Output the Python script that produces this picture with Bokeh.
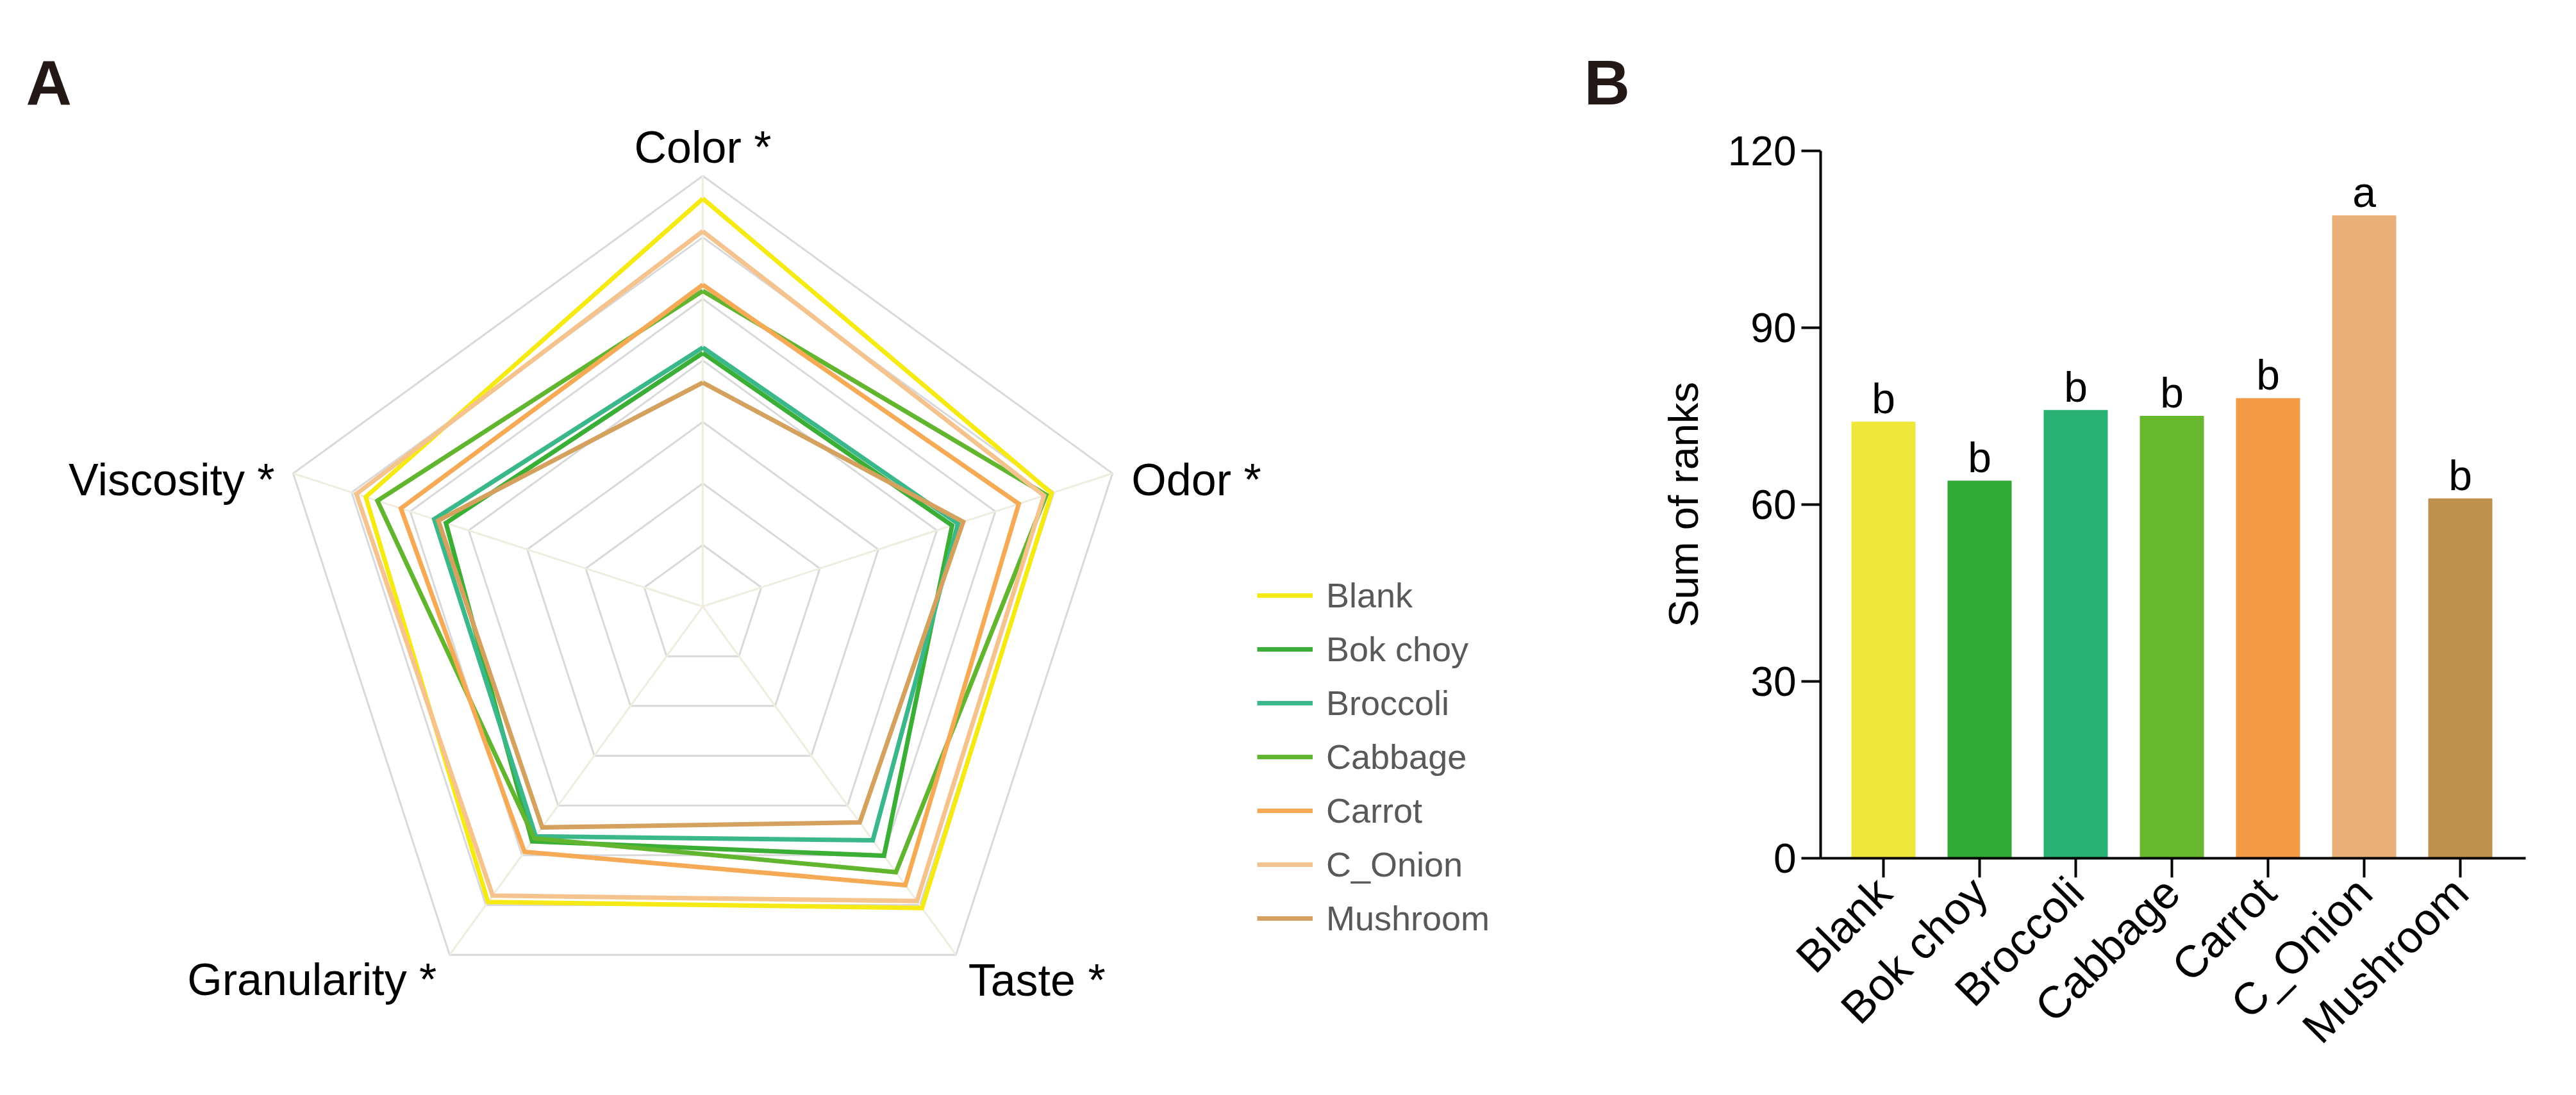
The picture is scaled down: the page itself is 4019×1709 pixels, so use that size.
import math
from bokeh.plotting import figure
from bokeh.models import Range1d, FixedTicker, Legend, LegendItem, ColumnDataSource
from bokeh.layouts import row
from bokeh.embed import file_html
from bokeh.resources import INLINE
from bokeh.core.properties import value

# ---------------- data ----------------
groups = ["Blank", "Bok choy", "Broccoli", "Cabbage", "Carrot", "C_Onion", "Mushroom"]
attributes = ["Color *", "Odor *", "Taste *", "Granularity *", "Viscosity *"]
ring_levels = [1, 2, 3, 4, 5, 6, 7]

# radar scores (ring units), order: Color, Odor, Taste, Granularity, Viscosity
blank_scores    = [6.63, 5.96, 6.06, 5.94, 5.76]
bokchoy_scores  = [4.12, 4.26, 5.01, 4.72, 4.39]
broccoli_scores = [4.21, 4.36, 4.70, 4.62, 4.59]
cabbage_scores  = [5.13, 5.87, 5.34, 4.66, 5.56]
carrot_scores   = [5.23, 5.40, 5.60, 4.93, 5.16]
conion_scores   = [6.10, 5.83, 5.92, 5.81, 5.92]
mushroom_scores = [3.64, 4.45, 4.34, 4.44, 4.52]

rank_sums = [74, 64, 76, 75, 78, 109, 61]
sig_letters = ["b", "b", "b", "b", "b", "a", "b"]
rank_ticks = [0, 30, 60, 90, 120]

# ---------------- styles ----------------
line_colors = ["#f5ea14", "#3aae35", "#3ab88a", "#62b52e", "#f6aa55", "#f5c38e", "#d4a15e"]
bar_colors = ["#efe73a", "#30aa36", "#28b172", "#68b82e", "#f39b45", "#e9b07a", "#bf914e"]
FONT = "Liberation Sans"

# page layout (pixels)
PAGE_OFF = 8
FIG_H = 1690
WA = 2552
WB = 1448
U = 96.0               # pixels per ring level
CX, CY = 1104, 954     # radar centre on page


def px(X):
    return (X - CX) / U


def py(Y):
    return (CY - Y) / U


# ---------------- panel A: radar ----------------
pA = figure(width=WA, height=FIG_H,
            x_range=Range1d(px(PAGE_OFF), px(PAGE_OFF + WA)),
            y_range=Range1d(py(PAGE_OFF + FIG_H), py(PAGE_OFF)),
            min_border=0, toolbar_location=None, output_backend="svg",
            x_axis_location=None, y_axis_location=None)
pA.grid.visible = False
pA.outline_line_color = None

n_axes = len(attributes)
angles = [math.radians(90 - 360.0 / n_axes * i) for i in range(n_axes)]

ring_xs, ring_ys = [], []
for lev in ring_levels:
    ring_xs.append([lev * math.cos(a) for a in angles] + [lev * math.cos(angles[0])])
    ring_ys.append([lev * math.sin(a) for a in angles] + [lev * math.sin(angles[0])])
pA.multi_line(ring_xs, ring_ys, line_color="#d9d9d9", line_width=3)

rmax = max(ring_levels)
pA.segment(x0=[0] * n_axes, y0=[0] * n_axes,
           x1=[rmax * math.cos(a) for a in angles],
           y1=[rmax * math.sin(a) for a in angles],
           line_color="#eeeddf", line_width=3)

series = [blank_scores, bokchoy_scores, broccoli_scores, cabbage_scores,
          carrot_scores, conion_scores, mushroom_scores]
items = []
for name, vals, col in zip(groups, series, line_colors):
    xs = [v * math.cos(a) for v, a in zip(vals, angles)]
    ys = [v * math.sin(a) for v, a in zip(vals, angles)]
    xs.append(xs[0]); ys.append(ys[0])
    r = pA.line(xs, ys, line_color=col, line_width=7, line_join="miter")
    items.append(LegendItem(label=name, renderers=[r]))

legend = Legend(items=items, location=(1961, 215), orientation="vertical",
                glyph_width=87, glyph_height=84, label_height=84, spacing=0,
                padding=0, margin=0, label_standoff=21,
                label_text_font=FONT, label_text_font_size="54px",
                label_text_color="#595959",
                border_line_color=None, background_fill_alpha=0)
pA.add_layout(legend, "center")

# axis labels around the radar
lab_off = {  # dx, dy (ring units) from outer vertex, alignment
    "Color *": (0.0, 0.46, "center"),
    "Odor *": (0.31, -0.11, "left"),
    "Taste *": (0.20, -0.42, "left"),
    "Granularity *": (-0.21, -0.40, "right"),
    "Viscosity *": (-0.30, -0.11, "right"),
}
for att, a in zip(attributes, angles):
    dx, dy, al = lab_off[att]
    pA.text(x=[rmax * math.cos(a) + dx], y=[rmax * math.sin(a) + dy], text=[att],
            text_align=al, text_baseline="alphabetic", text_font=value(FONT),
            text_font_size="70px", text_color="black")

# panel letters
pA.text(x=[px(48), px(2479)], y=[py(136), py(136)], text=["A", "B"],
        text_align="left", text_baseline="alphabetic", text_font=value(FONT),
        text_font_style="bold", text_font_size="99px", text_color="#231815")

# ---------------- panel B: bars ----------------
BX0 = 2946      # page x of first bar centre
BY0 = 1347      # page y of value 0
SX = 150.0      # px per category
SY = 9.2        # px per rank unit
B_LEFT = PAGE_OFF + WA

idx = list(range(len(groups)))
src = ColumnDataSource(dict(x=idx, top=rank_sums, color=bar_colors,
                            ly=[v + 4 for v in rank_sums], lab=sig_letters))

x_lo = -0.653
x_hi = len(groups) - 1 + 0.68

pB = figure(width=WB, height=FIG_H,
            x_range=Range1d((B_LEFT - BX0) / SX, (B_LEFT + WB - BX0) / SX),
            y_range=Range1d((BY0 - (PAGE_OFF + FIG_H)) / SY, (BY0 - PAGE_OFF) / SY),
            min_border=0, toolbar_location=None, output_backend="svg")
pB.grid.visible = False
pB.outline_line_color = None

pB.vbar(x="x", top="top", width=0.66, color="color", source=src)
pB.text(x="x", y="ly", text="lab", source=src, text_align="center",
        text_baseline="alphabetic", text_font=value(FONT), text_font_size="66px",
        text_color="black")

for ax in (pB.xaxis[0], pB.yaxis[0]):
    ax.axis_line_width = 4
    ax.axis_line_color = "black"
    ax.major_tick_line_width = 4
    ax.major_tick_line_color = "black"
    ax.major_tick_out = 30
    ax.major_tick_in = 0
    ax.minor_tick_line_color = None
    ax.major_label_text_font = FONT
    ax.major_label_text_color = "black"

pB.xaxis.fixed_location = 0
pB.xaxis.bounds = (x_lo, x_hi)
pB.xaxis.ticker = FixedTicker(ticks=idx)
pB.xaxis.major_label_overrides = {i: g for i, g in zip(idx, groups)}
pB.xaxis.major_label_orientation = math.pi / 4
pB.xaxis.major_label_text_font_size = "70px"
pB.xaxis.major_label_standoff = 12

pB.yaxis.fixed_location = x_lo
pB.yaxis.bounds = (rank_ticks[0], rank_ticks[-1])
pB.yaxis.ticker = FixedTicker(ticks=rank_ticks)
pB.yaxis.major_label_text_font_size = "64px"
pB.yaxis.major_label_standoff = 8
pB.yaxis.axis_label = "Sum of ranks"
pB.yaxis.axis_label_text_font = FONT
pB.yaxis.axis_label_text_font_size = "65px"
pB.yaxis.axis_label_text_font_style = "normal"
pB.yaxis.axis_label_text_color = "black"
pB.yaxis.axis_label_standoff = 30

layout = row(pA, pB)
open("out.html", "w").write(file_html(layout, INLINE))
